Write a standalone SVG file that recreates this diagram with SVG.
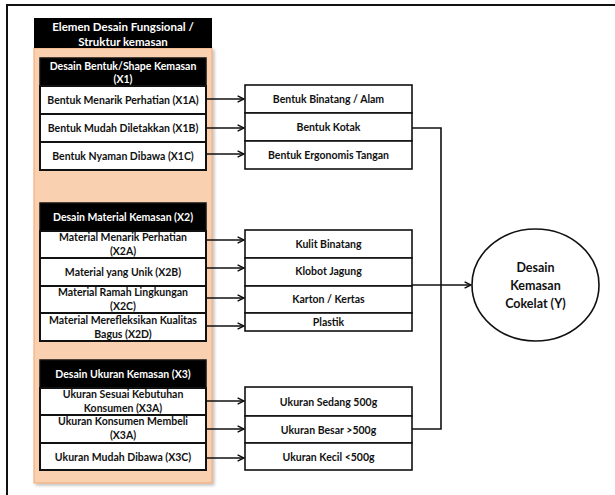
<svg xmlns="http://www.w3.org/2000/svg" width="615" height="495" viewBox="0 0 615 495">
<style>
  text { font-family: Lato, "Liberation Sans", sans-serif; font-weight: bold; font-size: 10.5px; text-anchor: middle; }
  .w { fill: #ffffff; }
  .b { fill: #111111; }
  .t { font-size: 11.5px; }
  .box { fill: #ffffff; stroke: #111111; stroke-width: 2; }
  .rbox { fill: #ffffff; stroke: #111111; stroke-width: 1.6; }
  .hdr { fill: #000000; stroke: #111111; stroke-width: 1.5; }
  .con { fill: none; stroke: #111111; stroke-width: 1.6; }
  .ell { font-size: 12.5px; }
</style>
<defs>
  <marker id="arr" viewBox="0 0 10 10" refX="9" refY="5" markerWidth="8" markerHeight="8" markerUnits="userSpaceOnUse" orient="auto">
    <path d="M1,1 L9,5 L1,9" fill="none" stroke="#111111" stroke-width="1.8"/>
  </marker>
  <filter id="sh" x="-5%" y="-5%" width="115%" height="115%">
    <feDropShadow dx="2" dy="2" stdDeviation="1.5" flood-color="#000000" flood-opacity="0.25"/>
  </filter>
</defs>
<rect x="0" y="0" width="615" height="495" fill="#ffffff"/>
<rect id="frame" x="7" y="5" width="620" height="500" fill="none" stroke="#111111" stroke-width="2"/>

<g id="panel">
  <rect x="34" y="48" width="178" height="435" fill="#FAD1B0" stroke="#F2A66E" stroke-width="1" filter="url(#sh)"/>
  <rect x="34" y="18" width="178" height="30" fill="#000000"/>
  <text class="w t" x="123" y="31">Elemen Desain Fungsional /</text>
  <text class="w t" x="123" y="46">Struktur kemasan</text>
</g>

<g id="x1">
  <rect class="hdr" x="40" y="58" width="166" height="28"/>
  <text class="w" x="123" y="70">Desain Bentuk/Shape Kemasan</text>
  <text class="w" x="123" y="83">(X1)</text>
</g>
<g id="x1a"><rect class="box" x="40" y="86" width="166" height="28"/><text class="b" x="123" y="104">Bentuk Menarik Perhatian (X1A)</text></g>
<g id="x1b"><rect class="box" x="40" y="114" width="166" height="28"/><text class="b" x="123" y="132">Bentuk Mudah Diletakkan (X1B)</text></g>
<g id="x1c"><rect class="box" x="40" y="142" width="166" height="28"/><text class="b" x="123" y="160">Bentuk Nyaman Dibawa (X1C)</text></g>

<g id="x2">
  <rect class="hdr" x="40" y="203" width="166" height="28"/>
  <text class="w" x="123" y="221">Desain Material Kemasan (X2)</text>
</g>
<g id="x2a"><rect class="box" x="40" y="231" width="166" height="27"/><text class="b" x="123" y="241">Material Menarik Perhatian</text><text class="b" x="123" y="255">(X2A)</text></g>
<g id="x2b"><rect class="box" x="40" y="258" width="166" height="28"/><text class="b" x="123" y="276">Material yang Unik (X2B)</text></g>
<g id="x2c"><rect class="box" x="40" y="286" width="166" height="27"/><text class="b" x="123" y="296">Material Ramah Lingkungan</text><text class="b" x="123" y="310">(X2C)</text></g>
<g id="x2d"><rect class="box" x="40" y="313" width="166" height="28"/><text class="b" x="123" y="324">Material Merefleksikan Kualitas</text><text class="b" x="123" y="338">Bagus (X2D)</text></g>

<g id="x3">
  <rect class="hdr" x="40" y="360" width="166" height="28"/>
  <text class="w" x="123" y="378">Desain Ukuran Kemasan (X3)</text>
</g>
<g id="x3a"><rect class="box" x="40" y="388" width="166" height="27"/><text class="b" x="123" y="398">Ukuran Sesuai Kebutuhan</text><text class="b" x="123" y="412">Konsumen (X3A)</text></g>
<g id="x3b"><rect class="box" x="40" y="415" width="166" height="28"/><text class="b" x="123" y="425">Ukuran Konsumen Membeli</text><text class="b" x="123" y="439">(X3A)</text></g>
<g id="x3c"><rect class="box" x="40" y="443" width="166" height="27"/><text class="b" x="123" y="461">Ukuran Mudah Dibawa (X3C)</text></g>

<g id="r1"><rect class="rbox" x="245" y="85" width="167" height="28"/><text class="b" x="328.5" y="103">Bentuk Binatang / Alam</text></g>
<g id="r2"><rect class="rbox" x="245" y="113" width="167" height="28"/><text class="b" x="328.5" y="131">Bentuk Kotak</text></g>
<g id="r3"><rect class="rbox" x="245" y="141" width="167" height="28"/><text class="b" x="328.5" y="159">Bentuk Ergonomis Tangan</text></g>

<g id="r4"><rect class="rbox" x="245" y="230" width="167" height="28"/><text class="b" x="328.5" y="248">Kulit Binatang</text></g>
<g id="r5"><rect class="rbox" x="245" y="258" width="167" height="28"/><text class="b" x="328.5" y="275">Klobot Jagung</text></g>
<g id="r6"><rect class="rbox" x="245" y="286" width="167" height="27"/><text class="b" x="328.5" y="303">Karton / Kertas</text></g>
<g id="r7"><rect class="rbox" x="245" y="313" width="167" height="18"/><text class="b" x="328.5" y="326">Plastik</text></g>

<g id="r8"><rect class="rbox" x="245" y="387" width="167" height="29"/><text class="b" x="328.5" y="406">Ukuran Sedang 500g</text></g>
<g id="r9"><rect class="rbox" x="245" y="416" width="167" height="27"/><text class="b" x="328.5" y="434">Ukuran Besar &gt;500g</text></g>
<g id="r10"><rect class="rbox" x="245" y="443" width="167" height="27"/><text class="b" x="328.5" y="461">Ukuran Kecil &lt;500g</text></g>

<g id="y">
  <ellipse cx="535.5" cy="285" rx="63.5" ry="56" fill="#ffffff" stroke="#111111" stroke-width="1.6"/>
  <text class="b ell" x="535.5" y="272">Desain</text>
  <text class="b ell" x="535.5" y="290">Kemasan</text>
  <text class="b ell" x="535.5" y="308">Cokelat (Y)</text>
</g>

<g id="connectors">
  <line class="con" x1="206" y1="99" x2="244" y2="99" marker-end="url(#arr)"/>
  <line class="con" x1="206" y1="128" x2="244" y2="128" marker-end="url(#arr)"/>
  <line class="con" x1="206" y1="154" x2="244" y2="154" marker-end="url(#arr)"/>
  <line class="con" x1="206" y1="240" x2="244" y2="240" marker-end="url(#arr)"/>
  <line class="con" x1="206" y1="268" x2="244" y2="268" marker-end="url(#arr)"/>
  <line class="con" x1="206" y1="298" x2="244" y2="298" marker-end="url(#arr)"/>
  <line class="con" x1="206" y1="326" x2="244" y2="326" marker-end="url(#arr)"/>
  <line class="con" x1="206" y1="401" x2="244" y2="401" marker-end="url(#arr)"/>
  <line class="con" x1="206" y1="429" x2="244" y2="429" marker-end="url(#arr)"/>
  <line class="con" x1="206" y1="458" x2="244" y2="458" marker-end="url(#arr)"/>
  <polyline class="con" points="412,128 441,128 441,429 412,429"/>
  <line class="con" x1="412" y1="285" x2="471" y2="285" marker-end="url(#arr)"/>
</g>
</svg>
